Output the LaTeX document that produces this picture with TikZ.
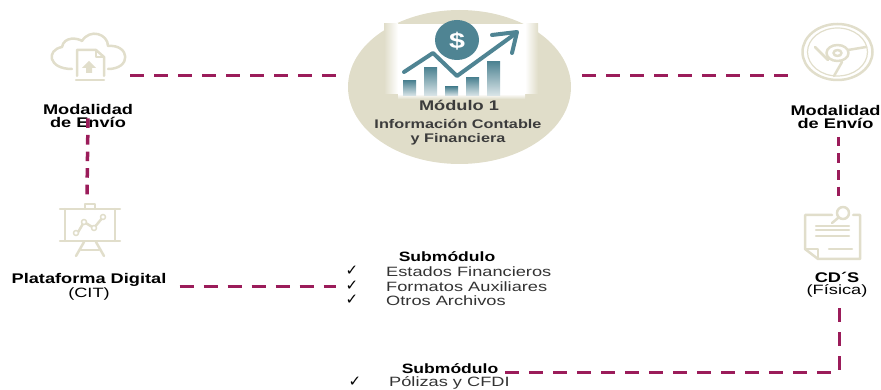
\documentclass[tikz,border=0pt]{standalone}
\usepackage{fontspec}
\usepackage{xcolor}
\usetikzlibrary{shapes.geometric}
\usetikzlibrary{calc}
\usetikzlibrary{positioning}
\setmainfont{Liberation Sans}
\newfontfamily\boldwide[FakeStretch=1.3]{Liberation Sans Bold}
\newfontfamily\plainwide[FakeStretch=1.35]{Liberation Sans}
\newfontfamily\checkfont{DejaVu Sans}
\definecolor{linkred}{HTML}{9B1C5A}
\definecolor{sand}{HTML}{E0DDC9}
\definecolor{iconsand}{HTML}{E1DECB}
\definecolor{tealbar}{HTML}{4F8493}
\definecolor{moduletext}{HTML}{3C3C3C}
\tikzset{
  link/.style={draw=linkred, line width=3pt, dash pattern=on 14pt off 10pt},
  linkv/.style={draw=linkred, line width=3.5pt, dash pattern=on 9.6pt off 7pt},
  icon/.style={draw=iconsand, line width=2.5pt, line cap=round, line join=round},
  iconbox/.style={inner sep=0pt, draw=none},
  titletext/.style={font=\boldwide\fontsize{14}{13}\selectfont, align=center, inner sep=0pt, text=black},
  plaintext/.style={font=\plainwide\fontsize{13.5}{14}\selectfont, anchor=west, inner sep=0pt, text=black!80},
  subtitle/.style={font=\boldwide\fontsize{13.5}{14}\selectfont, inner sep=0pt, text=black},
  checkmark/.style={font=\checkfont\fontsize{15}{15}\selectfont, inner sep=0pt, text=black}
}
\begin{document}
\begin{tikzpicture}[x=1pt, y=-1pt]
      \useasboundingbox (0, 0) rectangle (881, 390);

      % central module
      \node[ellipse, fill=sand, minimum width=223pt, minimum height=154pt, inner sep=0pt] (modulo) at (459.5, 87) {};
      \fill[white] (398, 24) rectangle (525, 94);
      \shade[left color=sand, right color=white] (384, 24) rectangle (398, 94);
      \shade[left color=white, right color=sand] (525, 24) rectangle (538, 94);
      \shade[top color=white, bottom color=sand] (398, 94) rectangle (525, 99);
      \foreach \bx/\bt in {403/81, 424/68, 445/87, 466/78, 487/62}{
        \shade[top color=tealbar, bottom color=tealbar!20!white] (\bx, \bt) rectangle (\bx + 13, 96);
      }
      \fill[tealbar] (457, 40) ellipse (22 and 20);
      \node[font=\boldwide\fontsize{22}{22}\selectfont, text=white, inner sep=0pt] (dollar) at (457, 41) {\$};
      \draw[tealbar, line width=4pt, line cap=round, line join=round] (404, 72) -- (433, 53) -- (457, 76) -- (515, 34);
      \draw[tealbar, line width=4pt, line cap=round, line join=round] (492, 35) -- (517, 32) -- (512, 53);
      \node[font=\boldwide\fontsize{14}{14}\selectfont, text=moduletext, inner sep=0pt] (modtitle) at (459, 105) {Módulo 1};
      \node[font=\boldwide\fontsize{12.5}{13.5}\selectfont, text=moduletext, align=center, inner sep=0pt] (modtext) at (458, 132) {Información Contable\\y Financiera};

      % left column
      \node[iconbox, minimum width=78pt, minimum height=42pt] (cloudicon) at (91, 54) {};
      \draw[icon] (72, 69) .. controls (48, 69) and (46, 50) .. (62, 47) .. controls (64, 36) and (78, 38) .. (82, 41)
        .. controls (90, 28) and (108, 34) .. (108, 46) .. controls (130, 44) and (132, 69) .. (108, 69);
      \draw[icon] (77, 76) -- (77, 50) -- (96, 50) -- (104, 57) -- (104, 76);
      \draw[icon] (96, 50) -- (96, 57) -- (104, 57);
      \draw[icon] (76, 80) -- (104, 80);
      \fill[iconsand] (89, 61) -- (96, 68) -- (92, 68) -- (92, 73) -- (86, 73) -- (86, 68) -- (82, 68) -- cycle;
      \node[titletext] (envioleft) at (88, 115.5) {Modalidad\\de Envío};
      \node[iconbox, minimum width=62pt, minimum height=56pt] (boardicon) at (87, 223) {};
      \draw[icon] (60, 209) -- (120, 209);
      \draw[icon] (60, 241) -- (120, 241);
      \draw[icon] (65, 209) -- (65, 241);
      \draw[icon] (115, 209) -- (115, 241);
      \draw[icon] (85, 209) -- (85, 204) -- (95, 204) -- (95, 209);
      \draw[icon] (77, 234) -- (84, 222) -- (94, 228) -- (103, 217);
      \foreach \px/\py in {76/233, 84/222, 94/228, 103/217}{
        \fill[white] (\px, \py) circle (2.5);
        \draw[icon, line width=1.5pt] (\px, \py) circle (2.5);
      }
      \draw[icon] (84, 242) -- (76, 256);
      \draw[icon] (96, 242) -- (104, 256);
      \draw[icon] (81, 250) -- (99, 250);
      \node[titletext, inner xsep=13pt] (plataforma) at (89, 280) {Plataforma Digital};
      \node[font=\plainwide\fontsize{13.5}{14}\selectfont, inner sep=0pt] (cit) at (89, 294) {(CIT)};

      % right column
      \node[iconbox, minimum width=78pt, minimum height=48pt] (cdicon) at (834, 51) {};
      \draw[icon] (837.5, 52) ellipse (35 and 28);
      \draw[icon, line width=1.2pt] (837.5, 52) ellipse (30 and 24);
      \draw[icon] (837.5, 53) ellipse (11 and 8);
      \draw[icon] (837.5, 53) ellipse (4 and 3);
      \draw[icon] (815, 47) -- (828, 60);
      \draw[icon] (848, 50) -- (866, 47);
      \draw[icon] (842, 62) -- (834, 76);
      \node[titletext] (envioright) at (835.5, 116.5) {Modalidad\\de Envío};
      \node[iconbox, minimum width=58pt, minimum height=55pt] (noteicon) at (833, 225) {};
      \draw[icon] (832, 215) -- (805, 215) -- (805, 249) -- (818, 259) -- (860, 259) -- (860, 215) -- (853, 215);
      \draw[icon] (805, 249) -- (818, 249) -- (818, 259);
      \draw[icon] (843, 213) circle (6);
      \draw[icon] (838, 218) -- (832, 223);
      \draw[icon] (816, 226) -- (849, 226);
      \draw[icon] (816, 230) -- (849, 230);
      \draw[icon] (816, 236) -- (849, 236);
      \draw[icon] (829, 249) -- (852, 249);
      \node[titletext] (cds) at (837, 277) {CD´S};
      \node[font=\plainwide\fontsize{13.5}{14}\selectfont, inner sep=0pt] (fisica) at (837, 291) {(Física)};

      % first list
      \node[subtitle] (subuno) at (447, 257) {Submódulo};
      \node[plaintext] (estados) at (386, 272) {Estados Financieros};
      \node[plaintext] (formatos) at (386, 287) {Formatos Auxiliares};
      \node[plaintext] (otros) at (386, 301) {Otros Archivos};
      \foreach \nm/\ty in {checka/271, checkb/286, checkc/300}{
        \node[checkmark] (\nm) at (352, \ty) {✓};
      }

      % second list
      \node[subtitle] (subdos) at (450, 369) {Submódulo};
      \node[plaintext] (polizas) at (389, 383) {Pólizas y CFDI};
      \node[checkmark] (checkd) at (355, 382) {✓};

      % connectors
      \draw[link, shorten >=8pt] (cloudicon.south east) -- (cloudicon.south east -| modulo.west);
      \draw[link, shorten <=11pt] (modulo.east |- cdicon.south west) -- (cdicon.south west);
      \draw[linkv] ([yshift=9pt]envioleft.south) -- (boardicon.north);
      \draw[linkv] ([shift={(3, 8.5)}]envioright.south) -- ([shift={(3, 0)}]envioright.south |- noteicon.north);
      \draw[link, shorten >=10pt] (plataforma.east |- checkb.west) -- (checkb.west);
      \draw[link] ([shift={(7, 3)}]subdos.east) -| ([shift={(2, 8)}]fisica.south);
\end{tikzpicture}
\end{document}
